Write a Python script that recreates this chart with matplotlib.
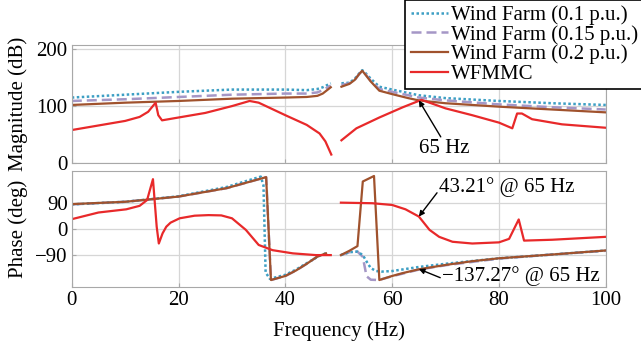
import numpy as np
import matplotlib
matplotlib.use('Agg')
import matplotlib.pyplot as plt

plt.rcParams['font.family'] = ['Liberation Serif', 'DejaVu Serif']

nan = np.nan

# magnitude (dB), wind farm curves share the frequency grid
f_mag_wf = [0, 10, 20, 30, 40, 44, 46, 47, 48.5, nan, 50.5, 52, 53, 53.8, 54.4, 55, 56, 57.6, 60, 63, 65, 70, 80, 90, 100]
mag_01 = [115, 120, 125, 129, 129, 128, 130, 133, 140, nan, 140, 141, 148, 157, 163, 158, 148, 134, 129, 123, 119, 114, 109, 105, 102]
mag_015 = [109, 112, 116, 120, 122, 122, 124, 128, 136, nan, 137, 140, 146, 156, 162, 156, 144, 130, 125, 119, 115, 110, 103, 98, 94]
mag_02 = [102, 106, 109, 113, 115, 116, 118, 122, 133, nan, 134, 139, 146, 156, 162, 155, 143, 127, 121, 114, 110, 105, 99, 94, 89]

f_mag_mmc = [0, 5, 10, 12.7, 14.3, 15.7, 16.2, 16.9, 20, 25, 30, 33.3, 35, 40, 44, 46.4, 47.5, 48.6, nan,
             50.5, 53.3, 57.6, 62, 65.5, 70, 75, 80, 82.5, 83.4, 84.3, 86.2, 91.8, 100]
mag_mmc = [58, 66, 74, 81, 90, 106, 84, 75, 80, 88, 100, 109, 106, 84, 67, 52, 38, 15, nan,
           40, 61, 80, 98, 111, 96, 84, 71, 61, 87, 87, 77, 68, 62]

# phase (deg)
f_ph_01 = [0, 10, 20, 29, 35.4, 35.9, 36.3, 37.1, 40, 42, 44, 46.4, 47.6, nan,
           50.4, 52, 53.5, 54.5, 55.3, 56, 57, 58, 60, 65, 70, 80, 90, 100]
ph_01 = [85, 94, 113, 145, 181, 150, -150, -172, -158, -140, -118, -92, -84, nan,
         -90, -80, -78, -90, -115, -135, -145, -147, -145, -131, -120, -101, -88, -74]

f_ph_015 = [0, 10, 20, 29, 36.4, 37.3, 40, 42, 44, 46, 47.6, nan,
            50.4, 52, 53.5, 54.5, 55.2, 56, 57.5, 60, 65, 70, 80, 90, 100]
ph_015 = [85, 94, 112, 141, 179, -176, -162, -143, -120, -95, -84, nan,
          -90, -80, -78, -96, -163, -175, -176, -163, -140, -125, -102, -88, -75]

f_ph_02 = [0, 10, 20, 29, 36.4, 37.3, 40, 42, 44, 46, 47.6, nan,
           50.4, 52, 53.5, 54.5, 56.6, 57.6, 60, 62, 65, 70, 75, 80, 90, 100]
ph_02 = [86, 94, 112, 141, 179, -176, -162, -143, -120, -95, -84, nan,
         -90, -75, -59, 164, 183, -176, -162, -152, -139, -124, -111, -101, -88, -74]

f_ph_mmc = [0, 5, 10.2, 12.7, 14.1, 15.2, 15.9, 16.3, 17, 17.7, 18.5, 20.2, 23, 25.6, 28, 30, 32.6, 35, 37.6, 41.4, 45.7, 48.5, nan,
            50.4, 56.3, 60, 62.5, 65, 67, 68.8, 71.3, 75, 80, 81.9, 83.7, 84.7, 90, 100]
ph_mmc = [34, 57, 68, 80, 100, 172, 8, -50, -15, 8, 22, 37, 46, 48, 47, 37, -3, -55, -73, -84, -90, -90, nan,
          91, 89, 83, 68, 43, -3, -27, -44, -50, -46, -34, 33, -40, -37, -27]

labels = ['Wind Farm (0.1 p.u.)', 'Wind Farm (0.15 p.u.)', 'Wind Farm (0.2 p.u.)', 'WFMMC']
c01 = '#3d9fc4'
c015 = '#a597c6'
c02 = '#a0522d'
cmmc = '#e8292a'
fs = 15

fig = plt.figure(figsize=(6.41, 3.47), dpi=100)
ax1 = fig.add_axes([0.112, 0.530, 0.833, 0.340])
ax2 = fig.add_axes([0.112, 0.173, 0.833, 0.334])

for ax in (ax1, ax2):
    ax.grid(True, color='#d6d6d6', lw=0.9)
    ax.set_axisbelow(True)
    for s in ax.spines.values():
        s.set_color('#a8a8a8')
    ax.tick_params(direction='in', length=3, color='#a8a8a8', labelsize=fs, pad=3)
    ax.set_xlim(0, 100)
    ax.set_xticks([0, 20, 40, 60, 80, 100])

l1, = ax1.plot(f_mag_wf, mag_01, color=c01, ls=(0, (1, 1)), lw=1.8)
l2, = ax1.plot(f_mag_wf, mag_015, color=c015, ls=(0, (4, 2)), lw=1.8)
l3, = ax1.plot(f_mag_wf, mag_02, color=c02, lw=1.6)
l4, = ax1.plot(f_mag_mmc, mag_mmc, color=cmmc, lw=1.6)
ax1.set_ylim(0, 207)
ax1.set_yticks([0, 100, 200])
ax1.set_xticklabels([])
ax1.set_ylabel('Magnitude (dB)', fontsize=fs)
ax1.yaxis.set_label_coords(-0.082, 0.5)

ax2.plot(f_ph_015, ph_015, color=c015, ls=(0, (4, 2)), lw=1.8)
ax2.plot(f_ph_01, ph_01, color=c01, ls=(0, (1, 1)), lw=1.8)
ax2.plot(f_ph_02, ph_02, color=c02, lw=1.6)
ax2.plot(f_ph_mmc, ph_mmc, color=cmmc, lw=1.6)
ax2.set_ylim(-200, 200)
ax2.set_yticks([-90, 0, 90])
ax2.set_yticklabels(['\u221290', '0', '90'])
ax2.set_ylabel('Phase (deg)', fontsize=fs)
ax2.yaxis.set_label_coords(-0.082, 0.5)
ax2.set_xlabel('Frequency (Hz)', fontsize=fs)
ax2.xaxis.set_label_coords(0.5, -0.30)

arr = dict(arrowstyle='-|>', color='black', lw=1.0, mutation_scale=8, shrinkA=0, shrinkB=0)
ax1.annotate('', xy=(65, 110), xytext=(69.1, 46), arrowprops=arr)
ax1.text(69.7, 26, '65 Hz', fontsize=fs, ha='center', va='center')
ax2.annotate('', xy=(65, 43), xytext=(68.4, 125), arrowprops=arr)
ax2.text(68.8, 145, '43.21\u00b0 @ 65 Hz', fontsize=fs, ha='left', va='center')
ax2.annotate('', xy=(65, -138), xytext=(69.0, -168), arrowprops=arr)
ax2.text(69.4, -162, '\u2212137.27\u00b0 @ 65 Hz', fontsize=fs, ha='left', va='center')

leg = fig.legend([l1, l2, l3, l4], labels, loc='upper right', bbox_to_anchor=(1.004, 1.0),
                 fontsize=fs, frameon=True, fancybox=False, edgecolor='black', framealpha=1,
                 borderaxespad=0, labelspacing=0.0, handlelength=1.8, handletextpad=0.15,
                 borderpad=0.25)
leg.get_frame().set_linewidth(1.2)

fig.savefig('out.png', dpi=100)
